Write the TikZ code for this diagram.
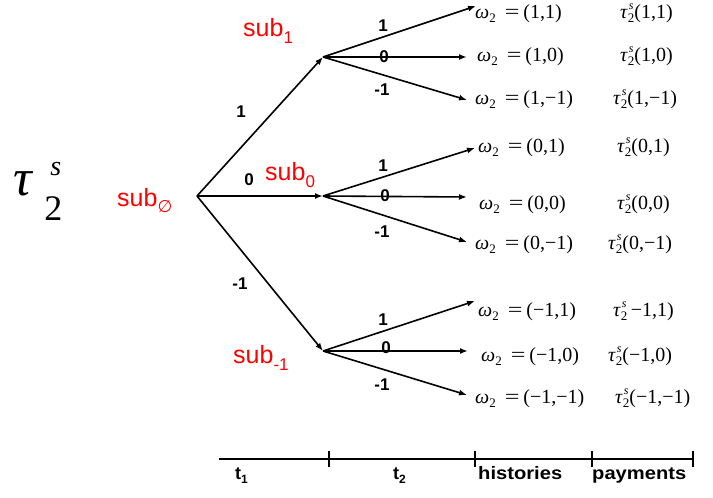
\documentclass[tikz,border=0pt]{standalone}
\usepackage{fontspec}
\setmainfont{Liberation Serif}
\setsansfont{Liberation Sans}
\newfontfamily\djv{DejaVu Sans}
\usetikzlibrary{arrows.meta}
\newcommand\wlab[1]{\textit{ω}\raisebox{-4pt}{\fontsize{13}{13}\selectfont 2}\hspace{9pt}\scalebox{1.3}[1]{=}\hspace{4pt}#1}
\newcommand\tlab[1]{\textit{τ}\rlap{\raisebox{9pt}{\fontsize{12}{12}\selectfont\textit{\hspace{1pt}s}}}\raisebox{-4pt}{\fontsize{13}{13}\selectfont 2}#1}
\tikzset{
  branch/.style={line width=1.6pt,-{Latex[length=8pt,width=6pt]}},
  blab/.style={font=\fontsize{17}{17}\selectfont\sffamily\bfseries,inner sep=0pt},
  sublab/.style={font=\fontsize{25}{25}\selectfont\sffamily,text=red,anchor=base west,inner sep=0pt},
  hist/.style={font=\fontsize{20}{20}\selectfont,anchor=base west,inner sep=0pt},
  tline/.style={line width=2.4pt},
  tlab/.style={font=\fontsize{18}{18}\selectfont\sffamily\bfseries,anchor=base west,inner sep=0pt}
}
\begin{document}
\begin{tikzpicture}[x=1pt,y=-1pt]
\useasboundingbox (0,0) rectangle (713,498);
% big tau
\node[anchor=base west,inner sep=0pt,font=\fontsize{52}{52}\selectfont] (bigtau) at (13,195)
  {\textit{τ}\hspace{11pt}\rlap{\hspace{6pt}\raisebox{20pt}{\fontsize{28}{28}\selectfont\textit{s}}}\raisebox{-25pt}{\fontsize{36}{36}\selectfont 2}};
% tree nodes
\coordinate (r) at (197,196);
\coordinate (n1) at (323,57);
\coordinate (n0) at (323,196);
\coordinate (nm) at (323,351);
% red labels
\node[sublab] (s0) at (117,206) {sub\raisebox{-6pt}{\fontsize{17}{17}\selectfont\djv ∅}};
\node[sublab] (s1) at (243,36) {sub\raisebox{-7pt}{\fontsize{17}{17}\selectfont 1}};
\node[sublab] (s00) at (265,180) {sub\raisebox{-7pt}{\fontsize{17}{17}\selectfont 0}};
\node[sublab] (sm) at (233,363) {sub\raisebox{-7pt}{\fontsize{17}{17}\selectfont -1}};
% first level
\draw[branch] (r) -- (n1);
\draw[branch] (r) -- (n0);
\draw[branch] (r) -- (nm);
\node[blab] (l1) at (241,112) {1};
\node[blab] (l0) at (249,180) {0};
\node[blab] (lm) at (240,284) {-1};
% tips
\coordinate (a1) at (476,6);   \coordinate (a0) at (467,57);  \coordinate (am) at (467,100);
\coordinate (b1) at (475,148); \coordinate (b0) at (467,197); \coordinate (bm) at (467,242);
\coordinate (c1) at (475,301); \coordinate (c0) at (468,351); \coordinate (cm) at (467,395);
\draw[branch] (n1) -- (a1); \draw[branch] (n1) -- (a0); \draw[branch] (n1) -- (am);
\draw[branch] (n0) -- (b1); \draw[branch] (n0) -- (b0); \draw[branch] (n0) -- (bm);
\draw[branch] (nm) -- (c1); \draw[branch] (nm) -- (c0); \draw[branch] (nm) -- (cm);
\node[blab] (la1) at (383,26) {1};  \node[blab] (la0) at (384,57) {0};  \node[blab] (lam) at (382,90) {-1};
\node[blab] (lb1) at (383,166) {1}; \node[blab] (lb0) at (385,196) {0}; \node[blab] (lbm) at (382,232) {-1};
\node[blab] (lc1) at (383,320) {1}; \node[blab] (lc0) at (386,348) {0}; \node[blab] (lcm) at (382,385) {-1};
% histories
\node[hist] (h1) at (475,18)  {\wlab{(1,1)}};
\node[hist] (h2) at (477,61)  {\wlab{(1,0)}};
\node[hist] (h3) at (475,104) {\wlab{(1,−1)}};
\node[hist] (h4) at (478,152) {\wlab{(0,1)}};
\node[hist] (h5) at (479,209) {\wlab{(0,0)}};
\node[hist] (h6) at (475,249) {\wlab{(0,−1)}};
\node[hist] (h7) at (478,316) {\wlab{(−1,1)}};
\node[hist] (h8) at (481,361) {\wlab{(−1,0)}};
\node[hist] (h9) at (475,403) {\wlab{(−1,−1)}};
% payments
\node[hist] (p1) at (620,18)  {\tlab{(1,1)}};
\node[hist] (p2) at (620,61)  {\tlab{(1,0)}};
\node[hist] (p3) at (613,104) {\tlab{(1,−1)}};
\node[hist] (p4) at (617,152) {\tlab{(0,1)}};
\node[hist] (p5) at (617,209) {\tlab{(0,0)}};
\node[hist] (p6) at (608,249) {\tlab{(0,−1)}};
\node[hist] (p7) at (613,316) {\tlab{\,−1,1)}};
\node[hist] (p8) at (608,361) {\tlab{(−1,0)}};
\node[hist] (p9) at (615,403) {\tlab{(−1,−1)}};
% timeline
\coordinate (t0) at (219,459);
\coordinate (t1) at (329,459);
\coordinate (t2) at (475,459);
\coordinate (t3) at (592,459);
\coordinate (t4) at (693,459);
\draw[tline] (t0) -- (t4);
\foreach \t in {t1,t2,t3,t4} \draw[tline] ([yshift=-8pt]\t) -- ([yshift=8pt]\t);
\node[tlab] (x1) at (235,479) {t\raisebox{-4pt}{\fontsize{12}{12}\selectfont 1}};
\node[tlab] (x2) at (393,479) {t\raisebox{-4pt}{\fontsize{12}{12}\selectfont 2}};
\node[tlab] (x3) at (478,479) {\scalebox{1.12}[1]{histories}};
\node[tlab] (x4) at (592,479) {\scalebox{1.12}[1]{payments}};
\end{tikzpicture}
\end{document}
